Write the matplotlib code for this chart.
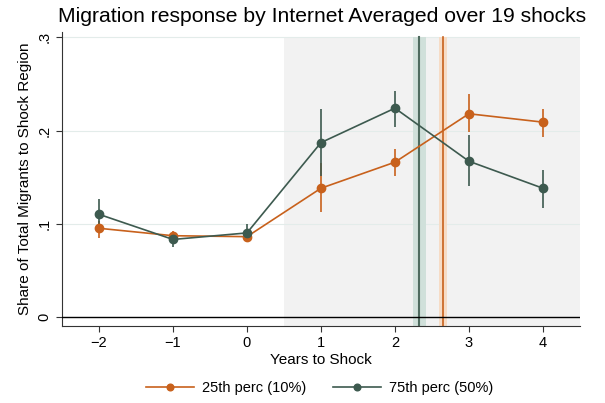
import matplotlib.pyplot as plt
import numpy as np

plt.rcParams['font.family'] = ['Liberation Sans', 'DejaVu Sans']

years = [-2, -1, 0, 1, 2, 3, 4]

# 25th percentile (10%)
p25 = [0.095, 0.087, 0.086, 0.138, 0.166, 0.218, 0.209]
p25_lo = [0.085, 0.083, 0.081, 0.112, 0.151, 0.198, 0.193]
p25_hi = [0.103, 0.092, 0.091, 0.165, 0.180, 0.239, 0.223]

# 75th percentile (50%)
p75 = [0.110, 0.083, 0.090, 0.187, 0.224, 0.167, 0.138]
p75_lo = [0.094, 0.075, 0.082, 0.151, 0.204, 0.140, 0.117]
p75_hi = [0.126, 0.091, 0.100, 0.223, 0.242, 0.195, 0.158]

# average shock timing lines with bands
line25, band25 = 2.655, (2.60, 2.71)
line75, band75 = 2.33, (2.25, 2.42)

c_or = '#c8611c'
c_gr = '#3d5a4f'

fig = plt.figure(figsize=(6.05, 4.03), dpi=100)
ax = fig.add_axes([0.1025, 0.191, 0.856, 0.730])

ylo, yhi = -0.01, 0.306
ax.fill_between([0.5, 4.5], ylo, 0.3, color='#f2f2f2', zorder=0, lw=0)
ax.fill_between(band75, ylo, 0.3, color='#d0e0da', zorder=1, lw=0)
ax.fill_between(band25, ylo, 0.3, color='#f6dcc6', zorder=1, lw=0)
ax.plot([line75, line75], [ylo, 0.3], color='#4f6b5f', lw=1.5, zorder=2)
ax.plot([line25, line25], [ylo, 0.3], color=c_or, lw=1.2, zorder=2)

for yv in [0.1, 0.2, 0.3]:
    ax.axhline(yv, color='#e3ecea', lw=0.8, zorder=0.5)
ax.axhline(0, color='black', lw=1.0, zorder=3)

ax.vlines(years, p25_lo, p25_hi, color=c_or, lw=1.2, zorder=4)
ax.vlines(years, p75_lo, p75_hi, color=c_gr, lw=1.2, zorder=4)
ax.plot(years, p25, color=c_or, marker='o', ms=6, lw=1.2, zorder=5, label='25th perc (10%)')
ax.plot(years, p75, color=c_gr, marker='o', ms=6, lw=1.2, zorder=5, label='75th perc (50%)')

ax.set_xlim(-2.5, 4.5)
ax.set_ylim(ylo, yhi)
ax.set_xticks(years)
ax.set_xticklabels(['\u22122', '\u22121', '0', '1', '2', '3', '4'], fontsize=10.5)
ax.set_yticks([0, 0.1, 0.2, 0.3])
ax.set_yticklabels(['0', '.1', '.2', '.3'], fontsize=10.5, rotation=90, va='center')
ax.spines['top'].set_visible(False)
ax.spines['right'].set_visible(False)
ax.spines['left'].set_color('#333333')
ax.spines['bottom'].set_color('#333333')
ax.tick_params(length=4, color='#333333')

ax.set_xlabel('Years to Shock', fontsize=11, labelpad=2)
ax.set_ylabel('Share of Total Migrants to Shock Region', fontsize=11, labelpad=4)
fig.text(0.533, 0.958, 'Migration response by Internet Averaged over 19 shocks',
         ha='center', va='center', fontsize=15.2)

fig.legend(loc='lower center', ncol=2, frameon=False, fontsize=10.5,
           bbox_to_anchor=(0.528, -0.012), handlelength=3.3, handletextpad=0.55,
           columnspacing=1.8, markerscale=0.8)

fig.savefig('out.png', dpi=100)
